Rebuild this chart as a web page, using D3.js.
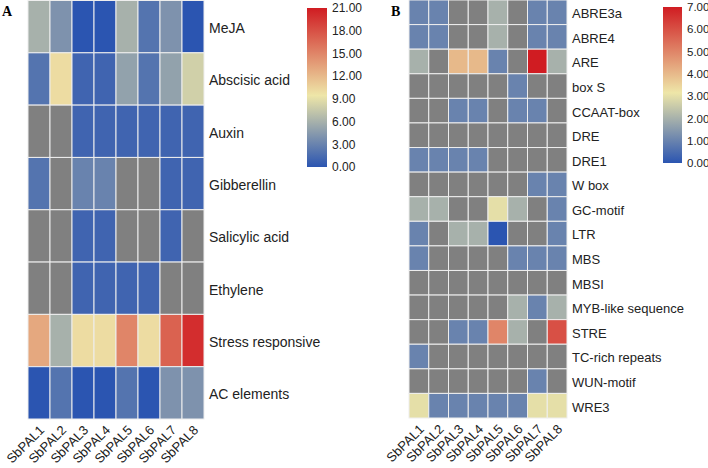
<!DOCTYPE html>
<html>
<head>
<meta charset="utf-8">
<script src="https://cdn.jsdelivr.net/npm/d3@7"></script>
<style>
  body { margin: 0; background: #fff; }
  svg { display: block; }
  .domain { display: none; }
</style>
</head>
<body>
<svg id="chart" width="708" height="468"></svg>
<script>
// genes along the x axis (same for both panels)
const genes = ["SbPAL1", "SbPAL2", "SbPAL3", "SbPAL4", "SbPAL5", "SbPAL6", "SbPAL7", "SbPAL8"];

// Panel A: hormone / stress related elements (null = grey, no element)
const hormoneRows = ["MeJA", "Abscisic acid", "Auxin", "Gibberellin",
  "Salicylic acid", "Ethylene", "Stress responsive", "AC elements"];
const hormoneValues = [
  [6, 4, 0, 0, 6, 2, 4, 0],
  [2, 10, 1, 1, 5, 2, 5, 8],
  [null, null, 1, 1, 1, 1, 1, 1],
  [2, null, 3, 3, null, null, 1, 1],
  [null, null, 1, 1, null, null, 1, null],
  [null, null, 1, 1, 1, 1, null, null],
  [13, 6, 10, 10, 15, 10, 17, 20],
  [0, 2, 0, 0, 2, 0, 4, 4]
];
const hormoneTicks = [0, 3, 6, 9, 12, 15, 18, 21];

// Panel B: individual cis-elements
const motifRows = ["ABRE3a", "ABRE4", "ARE", "box S", "CCAAT-box", "DRE", "DRE1",
  "W box", "GC-motif", "LTR", "MBS", "MBSI", "MYB-like sequence", "STRE",
  "TC-rich repeats", "WUN-motif", "WRE3"];
const motifValues = [
  [1, 1, null, null, 2, null, 1, 1],
  [1, 1, null, null, 2, null, 1, 1],
  [2, null, 4, 4, 1, null, 7, 2],
  [null, null, null, null, null, 1, null, null],
  [null, null, 1, 1, null, 1, 1, null],
  [null, null, null, null, null, null, null, null],
  [1, 1, 1, 1, null, null, null, null],
  [null, null, null, null, null, null, 1, 1],
  [2, 2, null, null, 3, 2, null, 1],
  [1, null, 2, 2, 0, null, null, 1],
  [1, null, null, null, null, 1, 1, 1],
  [null, null, null, null, null, null, null, null],
  [null, null, null, null, null, 2, 1, 2],
  [null, null, 1, 1, 5, 2, null, 6],
  [1, null, null, null, null, null, null, null],
  [null, null, null, null, null, null, 1, null],
  [3, 1, 1, 1, 1, 1, 3, 3]
];
const motifTicks = [0, 1, 2, 3, 4, 5, 6, 7];

const BLUE = "#2b55b1", YELLOW = "#eee6a8", RED = "#d01c22", NA = "#808080";
const MID = 0.45; // position of the yellow stop
const SANS = "'Liberation Sans', Arial, sans-serif";

const svg = d3.select("#chart");
const defs = svg.append("defs");

function heatmap(o) {
  const g = svg.append("g");
  const x = d3.scaleBand().domain(genes).range([o.x0, o.x1]);
  const y = d3.scaleBand().domain(o.rows).range([o.y0, o.y1]);
  const max = d3.max(o.ticks);
  const color = d3.scaleLinear()
    .domain([0, max * MID, max])
    .range([BLUE, YELLOW, RED]);

  const cells = [];
  o.values.forEach((row, i) => row.forEach((v, j) => cells.push({ r: o.rows[i], c: genes[j], v })));

  g.selectAll("rect.cell")
    .data(cells)
    .join("rect")
    .attr("class", "cell")
    .attr("x", d => x(d.c))
    .attr("y", d => y(d.r))
    .attr("width", x.bandwidth())
    .attr("height", y.bandwidth())
    .attr("fill", d => d.v == null ? NA : color(d.v))
    .attr("stroke", "#eeeeee")
    .attr("stroke-width", 1);

  // row labels on the right
  g.append("g")
    .attr("transform", `translate(${o.x1},0)`)
    .call(d3.axisRight(y).tickSize(0).tickPadding(5))
    .attr("font-family", SANS)
    .call(a => a.selectAll("text")
      .attr("font-size", o.rowFont)
      .attr("fill", "#222")
      .attr("dy", "0.45em"));

  // rotated gene labels
  g.append("g")
    .attr("transform", `translate(0,${o.y1})`)
    .call(d3.axisBottom(x).tickSize(0))
    .attr("font-family", SANS)
    .call(a => a.selectAll("text")
      .attr("font-size", 13)
      .attr("fill", "#222")
      .attr("x", 0).attr("y", 0).attr("dy", 0)
      .attr("text-anchor", "end")
      .attr("transform", "translate(6,12) rotate(-45)"));

  // colour legend
  const gid = "grad" + o.id;
  const grad = defs.append("linearGradient")
    .attr("id", gid).attr("x1", 0).attr("y1", 1).attr("x2", 0).attr("y2", 0);
  grad.selectAll("stop")
    .data([[0, BLUE], [MID, YELLOW], [1, RED]])
    .join("stop")
    .attr("offset", d => d[0])
    .attr("stop-color", d => d[1]);

  g.append("rect")
    .attr("x", o.lx).attr("y", o.ly0)
    .attr("width", o.lw).attr("height", o.ly1 - o.ly0)
    .attr("fill", `url(#${gid})`);

  const ly = d3.scaleLinear().domain([0, max]).range([o.ly1, o.ly0]);
  g.append("g")
    .attr("transform", `translate(${o.lx + o.lw},0)`)
    .call(d3.axisRight(ly).tickValues(o.ticks).tickSize(0).tickPadding(5).tickFormat(d3.format(".2f")))
    .attr("font-family", SANS)
    .call(a => a.selectAll("text").attr("font-size", o.legFont).attr("fill", "#222"));

  // panel letter
  svg.append("text")
    .attr("x", o.tx).attr("y", 16)
    .attr("font-family", "'Liberation Serif', 'Times New Roman', serif")
    .attr("font-weight", "bold")
    .attr("font-size", 14)
    .text(o.id);
}

heatmap({
  id: "A", rows: hormoneRows, values: hormoneValues, ticks: hormoneTicks,
  x0: 28, x1: 204, y0: 0.5, y1: 419, rowFont: 14, legFont: 12,
  lx: 307, lw: 20, ly0: 8, ly1: 167, tx: 2
});

heatmap({
  id: "B", rows: motifRows, values: motifValues, ticks: motifTicks,
  x0: 409, x1: 567, y0: 0, y1: 418, rowFont: 13, legFont: 11.5,
  lx: 663, lw: 19, ly0: 7, ly1: 163, tx: 391
});
</script>
</body>
</html>
